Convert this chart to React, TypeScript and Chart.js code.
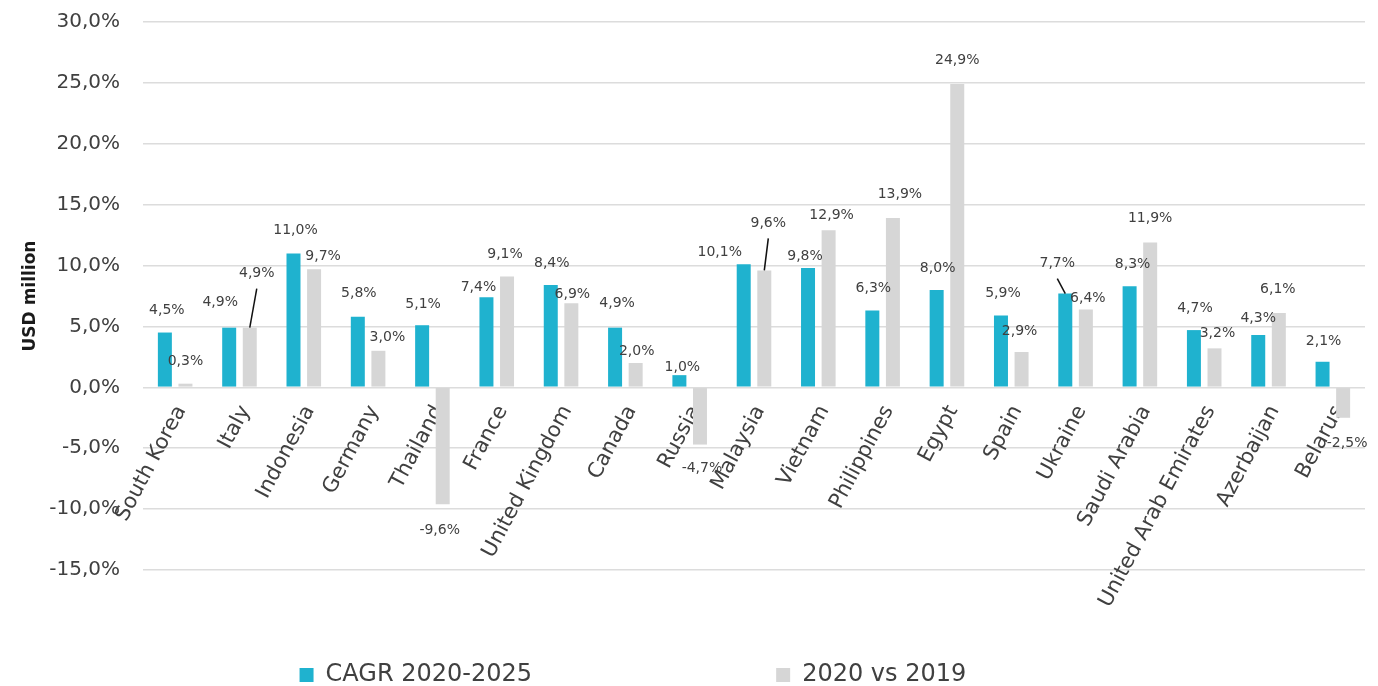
import React, { useEffect, useRef } from 'react';
import { Chart, registerables } from 'chart.js';

Chart.register(...registerables);

const categories = [
  'South Korea', 'Italy', 'Indonesia', 'Germany', 'Thailand', 'France',
  'United Kingdom', 'Canada', 'Russia', 'Malaysia', 'Vietnam', 'Philippines',
  'Egypt', 'Spain', 'Ukraine', 'Saudi Arabia', 'United Arab Emirates',
  'Azerbaijan', 'Belarus',
];
const cagr2020to2025 = [4.5, 4.9, 11.0, 5.8, 5.1, 7.4, 8.4, 4.9, 1.0, 10.1, 9.8, 6.3, 8.0, 5.9, 7.7, 8.3, 4.7, 4.3, 2.1];
const change2020vs2019 = [0.3, 4.9, 9.7, 3.0, -9.6, 9.1, 6.9, 2.0, -4.7, 9.6, 12.9, 13.9, 24.9, 2.9, 6.4, 11.9, 3.2, 6.1, -2.5];
const seriesNames = ['CAGR 2020-2025', '2020 vs 2019'];
const yTickValues = [-15, -10, -5, 0, 5, 10, 15, 20, 25, 30];
const yAxisTitle = 'USD million';

// label nudges (dx, dy) in px relative to the default "outside end" spot
const cagrLabelNudge = [[2,0],[-9,-3],[2,-1],[1,-1],[1,1],[-8,12],[1,0],[2,-2],[3,14],[-24,10],[-3,10],[1,0],[1,0],[2,0],[-8,-8],[3,0],[1,0],[0,5],[1,2]];
const vsLabelNudge = [[0,0],[7,-32],[9,9],[9,9],[-3,4],[-2,0],[1,13],[1,10],[2,2],[4,-25],[3,7],[7,-2],[0,-2],[-2,1],[2,11],[0,-2],[3,7],[-1,-2],[4,4]];
const cagrLeader = [14];
const vsLeader = [1, 9];
// legend text slot widths (px) so items sit apart like the original
const legendSlotWidths = [455, 270];

const TEAL = '#1fb2cf';
const GREY = '#d6d6d6';
const TEXT = '#404040';
const FONT = '"DejaVu Sans", sans-serif';
const LEGEND_SIZE = 24;

const fmt = (v: number) => v.toFixed(1).replace('.', ',') + '%';

const valueLabels = {
  id: 'valueLabels',
  afterDatasetsDraw(chart: any) {
    const ctx = chart.ctx;
    ctx.save();
    ctx.font = `14px ${FONT}`;
    ctx.textAlign = 'center';
    ctx.textBaseline = 'middle';
    chart.data.datasets.forEach((ds: any, di: number) => {
      const meta = chart.getDatasetMeta(di);
      const nudges = di === 0 ? cagrLabelNudge : vsLabelNudge;
      const leaders = di === 0 ? cagrLeader : vsLeader;
      meta.data.forEach((bar: any, i: number) => {
        const v = ds.data[i];
        const lx = bar.x + nudges[i][0];
        const ly = (v >= 0 ? bar.y - 22 : bar.y + 22) + nudges[i][1];
        if (leaders.includes(i)) {
          ctx.beginPath();
          ctx.strokeStyle = '#111';
          ctx.lineWidth = 1.5;
          ctx.moveTo(lx, ly + 15);
          ctx.lineTo(bar.x, bar.y);
          ctx.stroke();
        }
        ctx.fillStyle = TEXT;
        ctx.fillText(fmt(v), lx, ly);
      });
    });
    ctx.restore();
  },
};

export default function App() {
  const ref = useRef<HTMLCanvasElement>(null);
  useEffect(() => {
    if (!ref.current) return;
    const chart = new Chart(ref.current, {
      type: 'bar',
      data: {
        labels: categories,
        datasets: [
          { label: seriesNames[0], data: cagr2020to2025, backgroundColor: TEAL, xAxisID: 'x', yAxisID: 'y', categoryPercentage: 0.64, barPercentage: 0.68 },
          { label: seriesNames[1], data: change2020vs2019, backgroundColor: GREY, xAxisID: 'x', yAxisID: 'y', categoryPercentage: 0.64, barPercentage: 0.68 },
        ],
      },
      options: {
        animation: false,
        responsive: false,
        layout: { padding: { top: 22, right: 13, bottom: -11, left: 0 } },
        plugins: {
          tooltip: { enabled: false },
          legend: {
            position: 'bottom',
            labels: {
              color: TEXT,
              font: { family: FONT, size: LEGEND_SIZE },
              boxWidth: 14,
              boxHeight: 14,
              padding: 0,
              generateLabels: (c: any) => {
                const items = Chart.defaults.plugins.legend.labels.generateLabels(c);
                const ctx = c.ctx;
                ctx.save();
                ctx.font = `${LEGEND_SIZE}px ${FONT}`;
                const out = items.map((it: any, k: number) => {
                  let t = it.text;
                  while (ctx.measureText(t + ' ').width <= legendSlotWidths[k]) t += ' ';
                  return { ...it, text: t };
                });
                ctx.restore();
                return out;
              },
            },
          },
        },
        scales: {
          x: {
            type: 'category',
            position: { y: 0 },
            offset: true,
            grid: { display: false, drawTicks: false },
            border: { display: false },
            ticks: {
              autoSkip: false,
              minRotation: 62,
              maxRotation: 62,
              padding: 14,
              labelOffset: 6,
              color: TEXT,
              font: { family: FONT, size: 21 },
            },
          },
          x2: {
            type: 'category',
            position: 'bottom',
            grid: { display: false, drawTicks: false },
            border: { display: false },
            ticks: { display: false },
            afterFit: (s: any) => { s.height = 93; },
          },
          y: {
            min: -15,
            max: 30,
            afterBuildTicks: (s: any) => { s.ticks = yTickValues.map((v) => ({ value: v })); },
            grid: { color: '#dcdcdc', lineWidth: 1.5, drawTicks: true, tickLength: 23, tickColor: 'rgba(0,0,0,0)' },
            border: { display: false },
            ticks: {
              padding: 0,
              color: TEXT,
              font: { family: FONT, size: 20 },
              callback: (v: any) => fmt(Number(v)),
            },
            title: {
              display: true,
              text: yAxisTitle,
              color: '#1a1a1a',
              font: { family: FONT, size: 17, weight: 'bold' },
              padding: { top: 20, bottom: 0 },
            },
            afterFit: (s: any) => { s.width = 143; },
          },
        },
      },
      plugins: [valueLabels],
    });
    return () => chart.destroy();
  }, []);
  return (
    <div style={{ position: 'absolute', left: 0, top: 0, width: 1378, height: 686, background: '#fff' }}>
      <canvas ref={ref} width={1378} height={686} />
    </div>
  );
}
